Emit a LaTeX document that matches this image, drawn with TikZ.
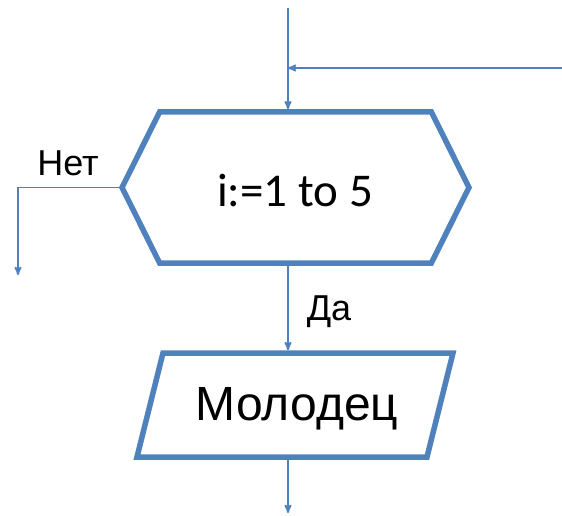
\documentclass[tikz,border=0pt]{standalone}
\usepackage{fontspec}
\setmainfont{Liberation Sans}
\newfontfamily\calibri{Carlito}
\usetikzlibrary{positioning}
\usetikzlibrary{calc}
\usetikzlibrary{arrows}
\usetikzlibrary{shapes}
\definecolor{ofblue}{RGB}{79,129,189}
\begin{document}
\begin{tikzpicture} [
    x=1pt, y=1pt,                  % one unit is one pixel of the sketch
    ]
% -------------------------------------------------
\tikzset{
  base/.style={draw=ofblue, line width=5.5pt, align=center, inner sep=0pt},
  loophex/.style={base, signal, signal to=west and east, signal pointer angle=127,
                  minimum width=347pt, minimum height=151pt},
  iobox/.style={rectangle, inner sep=0pt, outer sep=2.75pt,
                minimum width=290pt, minimum height=104pt},
  line/.style={draw=ofblue, line width=1.8pt, -stealth'},
  lbl/.style={font=\fontsize{36}{40}\selectfont},
}
    \useasboundingbox (0,0) rectangle (562,515);

    \node [loophex] (cycle) at (295.5,327.5) {};
    \node [font=\calibri\fontsize{47}{52}\selectfont] (cyctext) at (295,324) {i:=1 to 5};
    \node [iobox] (out) at (295,110) {};
    \draw [base, line join=miter] ($(out.north west)+(15.75,-2.75)$) -- ($(out.north east)+(10.25,-2.75)$)
          -- ($(out.south east)+(-15.75,2.75)$) -- ($(out.south west)+(-10.25,2.75)$) -- cycle;
    \node [font=\fontsize{48}{52}\selectfont] (outtext) at (297,106) {Молодец};

    \coordinate (top) at (288,507);
    \coordinate (feed) at (562,447);
    \coordinate (exit) at (18,240);
    \coordinate (stop) at (288,2);

    \path [line] (top) -- (top |- cycle.north);
    \path [line] (feed) -- (feed -| top);
    \path [line] (cycle.west) -| (exit);
    \path [line] (cycle.south -| top) -- (out.north -| top);
    \path [line] (out.south -| top) -- (stop);

    \node [lbl] (no) at (68,352) {Нет};
    \node [lbl] (yes) at (329,203) {Да};
\end{tikzpicture}
\end{document}
